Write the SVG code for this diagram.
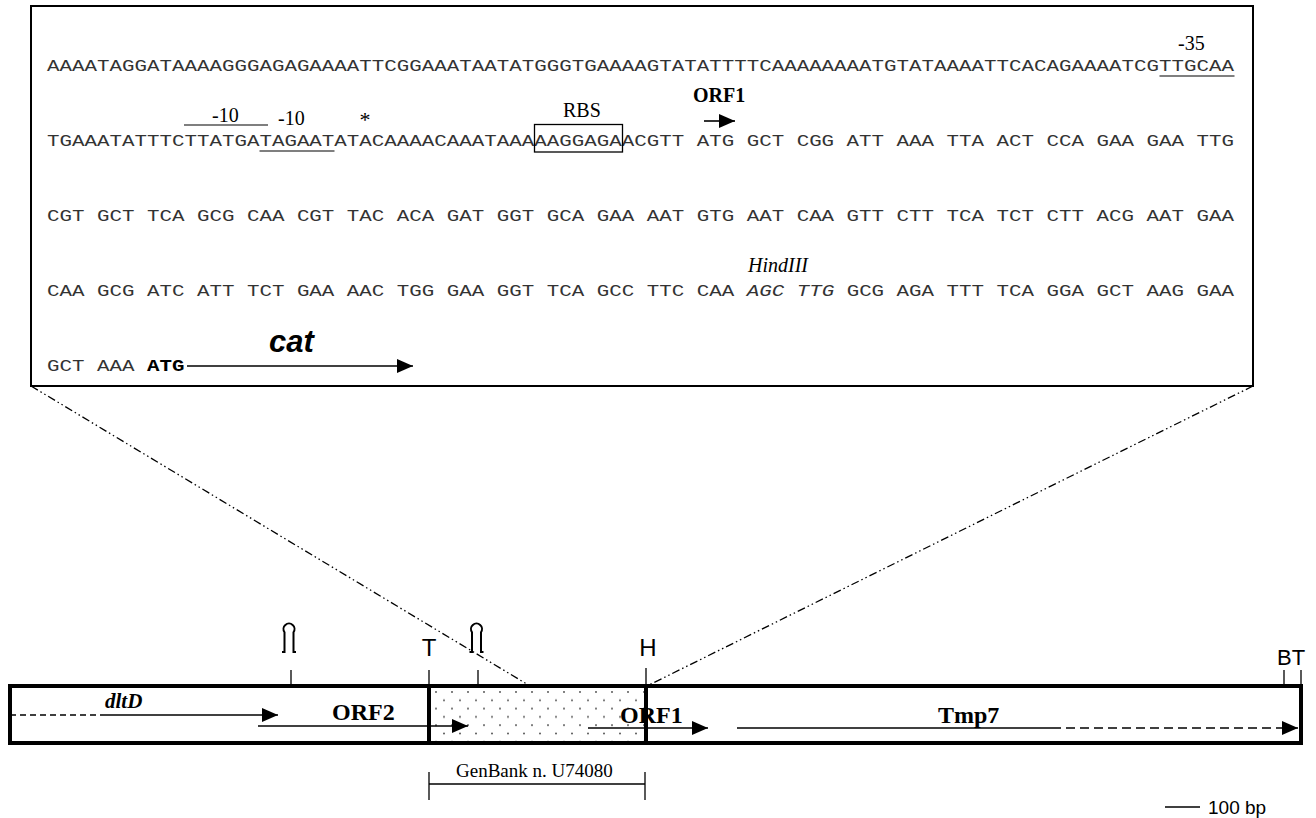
<svg xmlns="http://www.w3.org/2000/svg" width="1316" height="818" viewBox="0 0 1316 818">
<style>
.seq{font-family:"Liberation Mono","Courier New",monospace;font-size:16px;fill:#333;white-space:pre}
.tr{font-family:"Liberation Serif","Times New Roman",serif;fill:#000}
.ar{font-family:"Liberation Sans",Arial,sans-serif;fill:#000}
.ln{stroke:#000;stroke-width:1.3;fill:none}
.thin{stroke:#000;stroke-width:1.2;fill:none}
.dd{stroke:#000;stroke-width:1.3;fill:none;stroke-dasharray:8 3 1.5 3 1.5 3}
.hp{stroke:#000;stroke-width:2;fill:none}
.arr{stroke:#000;stroke-width:1.6;fill:none;marker-end:url(#head)}
</style>
<defs>
<marker id="head" markerUnits="userSpaceOnUse" markerWidth="17" markerHeight="14" refX="16" refY="7" orient="auto">
<path d="M0,0 L16,7 L0,14 z" fill="#000"/>
</marker>
<pattern id="dots" patternUnits="userSpaceOnUse" x="435" y="691" width="16" height="16.6">
<circle cx="1" cy="1" r="1" fill="#555"/>
<circle cx="9" cy="9.3" r="1" fill="#555"/>
</pattern>
</defs>
<rect width="1316" height="818" fill="#fff"/>

<g id="sequence-panel">
<rect x="31" y="6" width="1222" height="380" fill="#fff" stroke="#000" stroke-width="2"/>
<text class="seq" transform="translate(47 70.7) scale(1.30208 1)">AAAATAGGATAAAAGGGAGAGAAAATTCGGAAATAATATGGGTGAAAAGTATATTTTCAAAAAAAATGTATAAAATTCACAGAAAATCGTTGCAA</text>
<text class="seq" transform="translate(47 145.7) scale(1.30208 1)">TGAAATATTTCTTATGATAGAATATACAAAACAAATAAAAAGGAGAACGTT ATG GCT CGG ATT AAA TTA ACT CCA GAA GAA TTG</text>
<text class="seq" transform="translate(47 220.7) scale(1.30208 1)">CGT GCT TCA GCG CAA CGT TAC ACA GAT GGT GCA GAA AAT GTG AAT CAA GTT CTT TCA TCT CTT ACG AAT GAA</text>
<text class="seq" transform="translate(47 295.7) scale(1.30208 1)">CAA GCG ATC ATT TCT GAA AAC TGG GAA GGT TCA GCC TTC CAA <tspan font-style="italic">AGC TTG</tspan> GCG AGA TTT TCA GGA GCT AAG GAA</text>
<text class="seq" transform="translate(47 370.7) scale(1.30208 1)">GCT AAA <tspan font-weight="bold" fill="#000">ATG</tspan></text>

<!-- -35 box -->
<text class="tr" x="1178" y="50" font-size="20">-35</text>
<line class="thin" x1="1159.5" y1="76" x2="1234.5" y2="76"/>

<!-- -10 -->
<text class="tr" x="212" y="121.5" font-size="20">-10</text>
<line class="thin" x1="184" y1="125" x2="268" y2="125"/>
<text class="tr" x="278" y="125" font-size="20">-10</text>
<line class="thin" x1="259.5" y1="151" x2="334.5" y2="151"/>
<text class="tr" x="365" y="127" font-size="22" text-anchor="middle">*</text>

<!-- RBS -->
<text class="tr" x="563" y="117" font-size="20">RBS</text>
<rect x="534.5" y="124.5" width="88" height="27.5" fill="none" stroke="#000" stroke-width="1.3"/>

<!-- ORF1 start -->
<text class="tr" x="693" y="102" font-size="20" font-weight="bold">ORF1</text>
<line class="arr" x1="704" y1="121" x2="735" y2="121"/>

<!-- HindIII -->
<text class="tr" x="748" y="271.5" font-size="20" font-style="italic">HindIII</text>

<!-- cat -->
<text class="ar" x="269" y="352" font-size="31" font-weight="bold" font-style="italic">cat</text>
<line class="arr" x1="187" y1="366" x2="413" y2="366"/>
</g>

<g id="connectors">
<line class="dd" x1="31" y1="386" x2="530" y2="686"/>
<line class="dd" x1="1253" y1="386" x2="647" y2="686"/>
</g>

<g id="map">
<rect x="431" y="688" width="214" height="53" fill="url(#dots)"/>
<rect x="10" y="686" width="1291" height="57" fill="none" stroke="#000" stroke-width="4"/>
<line x1="429" y1="686" x2="429" y2="743" stroke="#000" stroke-width="4"/>
<line x1="646" y1="686" x2="646" y2="743" stroke="#000" stroke-width="4"/>

<!-- ticks -->
<line class="ln" x1="291" y1="670" x2="291" y2="686"/>
<line class="ln" x1="429" y1="670" x2="429" y2="686"/>
<line class="ln" x1="478" y1="670" x2="478" y2="686"/>
<line class="ln" x1="646" y1="668" x2="646" y2="686"/>
<line class="ln" x1="1284" y1="670" x2="1284" y2="686"/>
<line class="ln" x1="1301" y1="670" x2="1301" y2="686"/>

<!-- hairpins -->
<path class="hp" d="M282,652 H284.5 V632.2 A5.5 5.5 0 1 1 293.5 632.2 V652 H296"/>
<path class="hp" d="M469.5,652 H472 V632.2 A5.5 5.5 0 1 1 481 632.2 V652 H483.5"/>

<!-- site labels -->
<text class="ar" x="429" y="656" font-size="24" text-anchor="middle">T</text>
<text class="ar" x="648" y="656" font-size="24" text-anchor="middle">H</text>
<text class="ar" x="1277" y="665" font-size="22">BT</text>

<!-- genes -->
<line x1="10" y1="715" x2="103" y2="715" stroke="#000" stroke-width="1.5" stroke-dasharray="6 4"/>
<line class="arr" x1="103" y1="715" x2="278" y2="715"/>
<text class="tr" x="105" y="708" font-size="21" font-weight="bold" font-style="italic">dltD</text>

<line class="arr" x1="258" y1="726" x2="468" y2="726"/>
<text class="tr" x="332" y="720" font-size="24" font-weight="bold">ORF2</text>

<line class="arr" x1="588" y1="728" x2="708" y2="728"/>
<text class="tr" x="620" y="723" font-size="24" font-weight="bold">ORF1</text>

<line x1="737" y1="728" x2="1052" y2="728" stroke="#000" stroke-width="1.6"/>
<line x1="1052" y1="728" x2="1298" y2="728" stroke="#000" stroke-width="1.6" stroke-dasharray="9 5" marker-end="url(#head)"/>
<text class="tr" x="938" y="723" font-size="24" font-weight="bold">Tmp7</text>

<!-- GenBank bracket -->
<line class="ln" x1="429" y1="772" x2="429" y2="800"/>
<line class="ln" x1="645" y1="772" x2="645" y2="800"/>
<line class="ln" x1="429" y1="784" x2="645" y2="784"/>
<text class="tr" x="456" y="777" font-size="19">GenBank n. U74080</text>

<!-- scale -->
<line class="ln" x1="1165" y1="807" x2="1200" y2="807"/>
<text class="ar" x="1208" y="814" font-size="19">100 bp</text>
</g>
</svg>
